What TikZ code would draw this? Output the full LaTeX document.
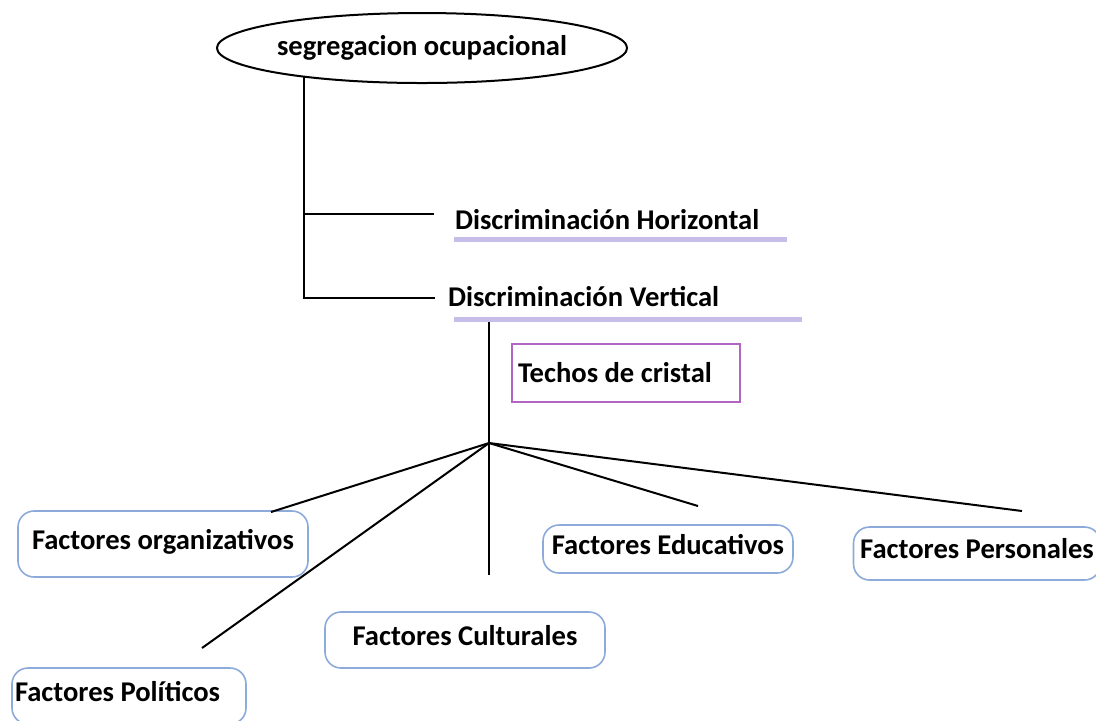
\documentclass[tikz,border=0pt]{standalone}
\usepackage{fontspec}
\setmainfont{Carlito}
\usetikzlibrary{shapes}

\definecolor{lavender}{RGB}{198,190,232}
\definecolor{boxblue}{RGB}{140,170,218}
\definecolor{boxpurple}{RGB}{178,102,196}

\begin{document}
\begin{tikzpicture}[x=0.5pt,y=-0.5pt,line width=1pt,
    every node/.style={font=\fontsize{14.3}{17}\selectfont\bfseries},
    label/.style={inner sep=0pt,anchor=base west},
    factor/.style={draw=boxblue,line width=0.8pt,rounded corners=8pt,fill=white,align=center,text depth=5pt},
    uline/.style={draw=lavender,line width=2.5pt}]
    \clip (0,0) rectangle (1096,720);
    \fill[white] (0,0) rectangle (1096,720);

    \node[draw,ellipse,minimum width=200pt,minimum height=35pt,inner sep=0pt] (seg) at (422,48) {segregacion ocupacional};
    \node[label] (horiz) at (454,229) {Discriminación Horizontal};
    \node[label] (vert) at (447,306) {Discriminación Vertical};
    \node[draw=boxpurple,line width=0.8pt,minimum width=114pt,minimum height=29pt,
          text width=108pt,inner xsep=3pt,align=flush left] (techo) at (626,373) {Techos de cristal};

    \node[factor,minimum width=145pt,minimum height=33pt] (org) at (163,544) {Factores organizativos};
    \node[factor,minimum width=140pt,minimum height=28pt] (cult) at (465,640) {Factores Culturales};
    \node[factor,minimum width=125pt,minimum height=24pt] (edu) at (668,549) {Factores Educativos};
    \node[factor,minimum width=123pt,minimum height=26.5pt] (pers) at (977,553.5) {Factores Personales};
    \node[factor,minimum width=117pt,minimum height=28pt,
          text width=114pt,inner xsep=1.5pt,align=flush left] (pol) at (129,696) {Factores Políticos};

    \coordinate (hub) at (489,443);
    \coordinate (orgend) at (271,512);
    \coordinate (polend) at (202,648);
    \coordinate (cultend) at (489,575);
    \coordinate (eduend) at (698,506);
    \coordinate (persend) at (1022,511);

    \draw (seg.194) |- ([shift={(-10pt,7.5pt)}]horiz.base west);
    \draw (seg.194) |- ([shift={(-6pt,4.25pt)}]vert.base west);
    \draw[uline] ([yshift=-5pt]horiz.base west) -- ++(166.5pt,0);
    \draw[uline] ([shift={(3.5pt,-6.75pt)}]vert.base west) -- ++(174pt,0);

    \draw ([yshift=-8pt]hub |- vert.base west) -- (hub);
    \foreach \e in {orgend,polend,cultend,eduend,persend}
        \draw (hub) -- (\e);

\end{tikzpicture}
\end{document}
